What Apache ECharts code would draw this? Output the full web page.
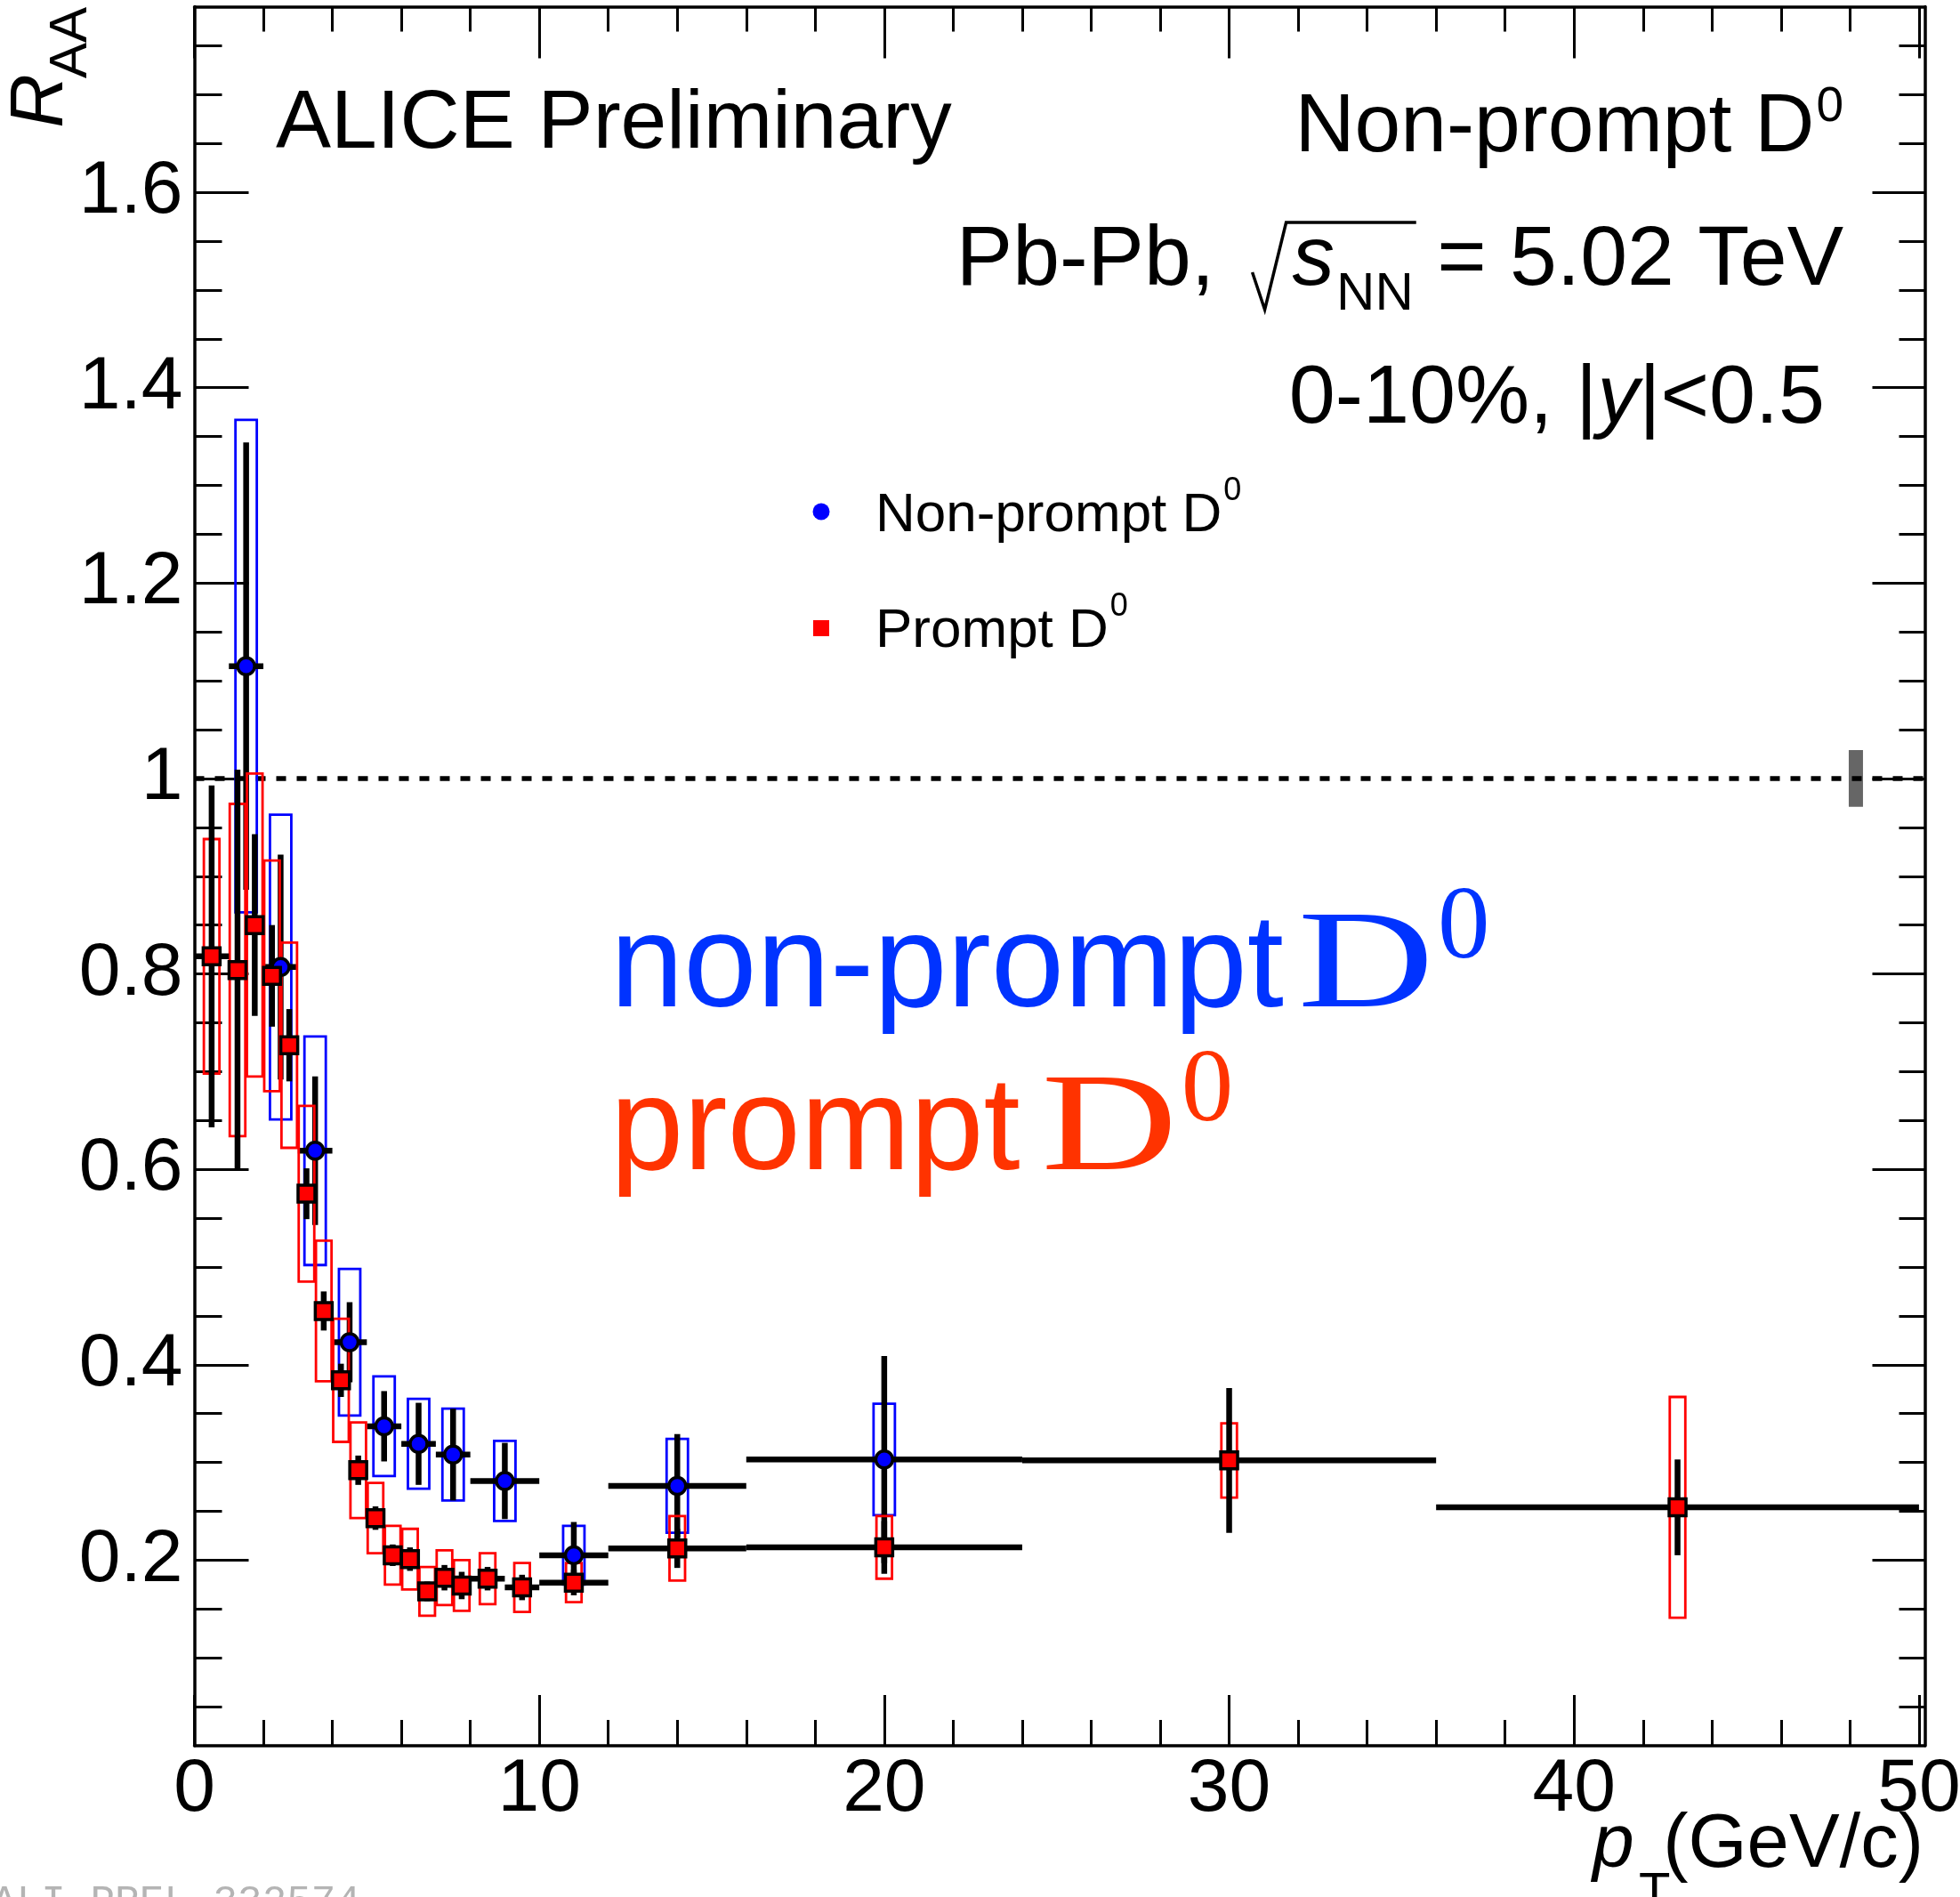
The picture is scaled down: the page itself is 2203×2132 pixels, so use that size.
<!DOCTYPE html>
<html>
<head>
<meta charset="utf-8">
<title>Non-prompt D0 RAA</title>
<script src="https://cdn.jsdelivr.net/npm/echarts@6.0.0/dist/echarts.min.js"></script>
<style>
  html, body { margin: 0; padding: 0; background: #fff; }
  #chart { width: 2203px; height: 2132px; }
</style>
</head>
<body>
<div id="chart"></div>
<script>
// non-prompt D0 (blue circles)
const npPt = [1.5, 2.5, 3.5, 4.5, 5.5, 6.5, 7.5, 9, 11, 14, 20];
const npLo = [1, 2, 3, 4, 5, 6, 7, 8, 10, 12, 16];
const npHi = [2, 3, 4, 5, 6, 7, 8, 10, 12, 16, 24];
const npVal = [1.115, 0.807, 0.619, 0.423, 0.337, 0.319, 0.308, 0.281, 0.205, 0.276, 0.303];
const npStat = [0.229, 0.115, 0.076, 0.041, 0.036, 0.042, 0.047, 0.039, 0.034, 0.053, 0.106];
const npSyst = [0.252, 0.156, 0.117, 0.075, 0.051, 0.046, 0.047, 0.041, 0.030, 0.048, 0.057];

// prompt D0 (red squares)
const pPt = [0.5, 1.25, 1.75, 2.25, 2.75, 3.25, 3.75, 4.25, 4.75, 5.25, 5.75, 6.25, 6.75, 7.25, 7.75, 8.5, 9.5, 11, 14, 20, 30, 43];
const pLo = [0, 1, 1.5, 2, 2.5, 3, 3.5, 4, 4.5, 5, 5.5, 6, 6.5, 7, 7.5, 8, 9, 10, 12, 16, 24, 36];
const pHi = [1, 1.5, 2, 2.5, 3, 3.5, 4, 4.5, 5, 5.5, 6, 6.5, 7, 7.5, 8, 9, 10, 12, 16, 24, 36, 50];
const pVal = [0.818, 0.804, 0.850, 0.798, 0.727, 0.575, 0.455, 0.384, 0.292, 0.243, 0.205, 0.201, 0.168, 0.182, 0.174, 0.181, 0.172, 0.177, 0.212, 0.213, 0.302, 0.254];
const pStat = [0.175, 0.205, 0.093, 0.052, 0.037, 0.026, 0.020, 0.017, 0.015, 0.012, 0.011, 0.012, 0.010, 0.013, 0.014, 0.012, 0.013, 0.013, 0.020, 0.027, 0.074, 0.049];
const pSyst = [0.120, 0.170, 0.155, 0.118, 0.105, 0.090, 0.072, 0.063, 0.049, 0.036, 0.030, 0.031, 0.025, 0.028, 0.026, 0.026, 0.025, 0.020, 0.033, 0.032, 0.038, 0.113];

// global normalisation uncertainty (grey box at RAA = 1)
const normUnc = [0.029];
// reference line
const unityLine = [1];

// axis ticks
const xMajor = [0, 10, 20, 30, 40, 50];
const yMajor = [0.2, 0.4, 0.6, 0.8, 1, 1.2, 1.4, 1.6];
const xMinor = [];
for (let v = 2; v < 50; v += 2) if (v % 10) xMinor.push(v);
const yMinor = [];
for (let i = 1; i <= 35; i++) if (i % 4) yMinor.push(+(i * 0.05).toFixed(2));

// ---- text helpers (measure with canvas so pieces line up) ----
const mctx = document.createElement('canvas').getContext('2d');
function fontStr(p) {
  return (p.italic ? 'italic ' : '') + p.size + 'px "' + (p.family || 'Liberation Sans') + '"';
}
function textWidth(p) {
  mctx.font = fontStr(p);
  return mctx.measureText(p.t).width;
}
// distance from the canvas "middle" baseline down to the alphabetic one
function midShift(p) {
  mctx.font = fontStr(p);
  mctx.textBaseline = 'alphabetic';
  const a = mctx.measureText('H').actualBoundingBoxAscent;
  mctx.textBaseline = 'middle';
  const b = mctx.measureText('H').actualBoundingBoxAscent;
  mctx.textBaseline = 'alphabetic';
  return a - b;
}
function textEl(p, x, baseline, color, align, rotation) {
  return {
    type: 'text', x: x, y: baseline, scaleX: p.sx || 1, rotation: rotation || 0, silent: true, z: 50,
    style: {
      text: p.t, x: 0, y: -midShift(p), font: fontStr(p), fill: p.color || color,
      align: align || 'left', verticalAlign: 'middle',
      textAlign: align || 'left', textVerticalAlign: 'middle'
    }
  };
}
// lay pieces on one baseline, anchored left or right
function textRow(pieces, x, baseline, anchor, color) {
  let total = 0;
  const ws = pieces.map(function (p) {
    const w = (p.gap || 0) + (p.w != null ? p.w : textWidth(p) * (p.sx || 1));
    total += w;
    return w;
  });
  let cx = anchor === 'right' ? x - total : x;
  const elems = [], xs = [];
  pieces.forEach(function (p, i) {
    const px = cx + (p.gap || 0);
    xs.push(px);
    if (p.t) elems.push(textEl(p, px, baseline + (p.dy || 0), color));
    cx += ws[i];
  });
  return { elems: elems, xs: xs };
}

const graphics = [];
function addRow(r) { r.elems.forEach(function (e) { graphics.push(e); }); return r; }

addRow(textRow([{ t: 'ALICE Preliminary', size: 93 }], 310, 166, 'left', '#000'));
addRow(textRow([
  { t: 'Non-prompt D', size: 93 },
  { t: '0', size: 55, dy: -34, gap: 2 }
], 2072, 170, 'right', '#000'));

const nnPiece = { t: 'NN', size: 60, dy: 28, gap: 2 };
const pbRow = addRow(textRow([
  { t: 'Pb-Pb, ', size: 95 },
  { w: 45, gap: 16 },
  { t: 's', size: 95, italic: true },
  nnPiece,
  { t: ' = 5.02 TeV', size: 95, gap: 0 }
], 2072, 320, 'right', '#000'));
const xr = pbRow.xs[1];
const nnEnd = pbRow.xs[3] + textWidth(nnPiece);
graphics.push({
  type: 'polyline', silent: true, z: 50,
  shape: { points: [[xr, 306], [xr + 14, 348], [xr + 38, 250], [nnEnd + 3, 250]] },
  style: { stroke: '#000', lineWidth: 3.5, fill: null, lineJoin: 'miter' }
});

addRow(textRow([
  { t: '0-10%, |', size: 93.5 },
  { t: 'y', size: 93.5, italic: true },
  { t: '|<0.5', size: 93.5 }
], 2051, 475, 'right', '#000'));

// legend
graphics.push({ type: 'circle', silent: true, z: 50, shape: { cx: 923, cy: 575, r: 9.5 }, style: { fill: '#0000ff' } });
graphics.push({ type: 'rect', silent: true, z: 50, shape: { x: 914, y: 697, width: 18, height: 18 }, style: { fill: '#ff0000' } });
addRow(textRow([{ t: 'Non-prompt D', size: 62 }, { t: '0', size: 36, dy: -35, gap: 2 }], 984, 597, 'left', '#000'));
addRow(textRow([{ t: 'Prompt D', size: 62 }, { t: '0', size: 36, dy: -35, gap: 2 }], 984, 727, 'left', '#000'));

// big coloured labels
addRow(textRow([
  { t: 'non-prompt', size: 148 },
  { t: 'D', size: 157, family: 'Liberation Serif', sx: 1.35, gap: 16 },
  { t: '0', size: 117, family: 'Liberation Serif', dy: -55, gap: 4 }
], 686, 1131, 'left', '#0033ff'));
addRow(textRow([
  { t: 'prompt', size: 148 },
  { t: 'D', size: 157, family: 'Liberation Serif', sx: 1.35, gap: 24 },
  { t: '0', size: 117, family: 'Liberation Serif', dy: -55, gap: 4 }
], 686, 1314, 'left', '#ff3300'));

// axis titles
graphics.push(textEl({ t: 'R', size: 84, italic: true }, 70, 83, '#000', 'right', Math.PI / 2));
graphics.push(textEl({ t: 'AA', size: 60 }, 97, 8, '#000', 'right', Math.PI / 2));
addRow(textRow([{ t: 'p', size: 84, italic: true }], 1790, 2098, 'left', '#000'));
addRow(textRow([{ t: 'T', size: 58 }], 1842, 2145, 'left', '#000'));
addRow(textRow([{ t: '(GeV/c)', size: 85 }], 2162, 2098, 'right', '#000'));

// figure id, mostly cut at the bottom edge
addRow(textRow([{ t: 'ALI-PREL-332574', size: 46, family: 'Liberation Mono' }], -9, 2151, 'left', '#b4b4b4'));

// ---- axes: majors and minors stacked on each side of the frame ----
const X_MAX = 50.17, Y_MIN = 0.01, Y_MAX = 1.79;
const axisLineStyle = { color: '#000', width: 3.5 };
const tickStyle = { color: '#000', width: 3 };
const labelStyle = { color: '#000', fontSize: 84, fontFamily: 'Liberation Sans' };

function xAx(pos, ticks, len, withLabels, withLine) {
  return {
    type: 'value', position: pos, min: 0, max: X_MAX,
    axisLine: { show: withLine, onZero: false, lineStyle: axisLineStyle },
    axisTick: { show: true, inside: true, length: len, customValues: ticks, lineStyle: tickStyle },
    axisLabel: withLabels
      ? Object.assign({ show: true, margin: 8, customValues: xMajor, formatter: function (v) { return '' + v; } }, labelStyle)
      : { show: false },
    splitLine: { show: false }, minorTick: { show: false }
  };
}
function yAx(pos, ticks, len, withLabels, withLine) {
  return {
    type: 'value', position: pos, min: Y_MIN, max: Y_MAX,
    axisLine: { show: withLine, onZero: false, lineStyle: axisLineStyle },
    axisTick: { show: true, inside: true, length: len, customValues: ticks, lineStyle: tickStyle },
    axisLabel: withLabels
      ? Object.assign({ show: true, margin: 13, customValues: yMajor, formatter: function (v) { return '' + v; } }, labelStyle)
      : { show: false },
    splitLine: { show: false }, minorTick: { show: false }
  };
}

// ---- renderers ----
function statRenderer(params, api) {
  const x = api.value(0), v = api.value(1), e = api.value(2);
  const top = api.coord([x, v + e]), bot = api.coord([x, v - e]);
  const l = api.coord([api.value(3), v]), r = api.coord([api.value(4), v]);
  const style = { stroke: '#000', lineWidth: 6.5 };
  return {
    type: 'group', children: [
      { type: 'line', shape: { x1: top[0], y1: top[1], x2: bot[0], y2: bot[1] }, style: style },
      { type: 'line', shape: { x1: l[0], y1: l[1], x2: r[0], y2: r[1] }, style: style }
    ]
  };
}
function boxRenderer(halfPx, color) {
  return function (params, api) {
    const t = api.coord([api.value(0), api.value(1) + api.value(2)]);
    const b = api.coord([api.value(0), api.value(1) - api.value(2)]);
    return {
      type: 'rect',
      shape: { x: t[0] - halfPx, y: t[1], width: 2 * halfPx, height: b[1] - t[1] },
      style: { fill: 'none', stroke: color, lineWidth: 2.8 }
    };
  };
}
function normRenderer(params, api) {
  const u = api.value(0);
  const t = api.coord([48.17, 1 + u]), b = api.coord([48.17, 1 - u]);
  return { type: 'rect', shape: { x: t[0] - 8, y: t[1], width: 16, height: b[1] - t[1] }, style: { fill: '#666666' } };
}
function unityRenderer(params, api) {
  const l = api.coord([0, api.value(0)]), r = api.coord([X_MAX, api.value(0)]);
  return {
    type: 'line', shape: { x1: l[0], y1: l[1], x2: r[0], y2: r[1] },
    style: { stroke: '#000', lineWidth: 5.5, lineDash: [11, 12] }
  };
}

const npStatData = npPt.map(function (x, i) { return [x, npVal[i], npStat[i], npLo[i], npHi[i]]; });
const npSystData = npPt.map(function (x, i) { return [x, npVal[i], npSyst[i]]; });
const pStatData = pPt.map(function (x, i) { return [x, pVal[i], pStat[i], pLo[i], pHi[i]]; });
const pSystData = pPt.map(function (x, i) { return [x, pVal[i], pSyst[i]]; });

const option = {
  animation: false,
  backgroundColor: '#ffffff',
  grid: { left: 218.5, top: 7.5, width: 1945, height: 1954.5, containLabel: false, outerBoundsMode: 'none' },
  xAxis: [
    xAx('bottom', xMajor, 57, true, true),
    xAx('bottom', xMinor, 29, false, false),
    xAx('top', xMajor, 58, false, true),
    xAx('top', xMinor, 28, false, false)
  ],
  yAxis: [
    yAx('left', yMajor, 61, true, true),
    yAx('left', yMinor, 31, false, false),
    yAx('right', yMajor, 59, false, true),
    yAx('right', yMinor, 29, false, false)
  ],
  series: [
    { name: 'norm', type: 'custom', renderItem: normRenderer, data: [normUnc], encode: { y: 0 }, silent: true },
    { name: 'unity', type: 'custom', renderItem: unityRenderer, data: [unityLine], encode: { y: 0 }, silent: true },
    { name: 'np syst', type: 'custom', renderItem: boxRenderer(12, '#0000ff'), data: npSystData, encode: { x: 0, y: 1 }, silent: true },
    { name: 'np stat', type: 'custom', renderItem: statRenderer, data: npStatData, encode: { x: 0, y: 1 }, silent: true },
    {
      name: 'Non-prompt D0', type: 'scatter', data: npPt.map(function (x, i) { return [x, npVal[i]]; }),
      symbol: 'circle', symbolSize: 19, silent: true,
      itemStyle: { color: '#0000ff', borderColor: '#000', borderWidth: 3.5, opacity: 1 }
    },
    { name: 'p syst', type: 'custom', renderItem: boxRenderer(8.75, '#ff0000'), data: pSystData, encode: { x: 0, y: 1 }, silent: true },
    { name: 'p stat', type: 'custom', renderItem: statRenderer, data: pStatData, encode: { x: 0, y: 1 }, silent: true },
    {
      name: 'Prompt D0', type: 'scatter', data: pPt.map(function (x, i) { return [x, pVal[i]]; }),
      symbol: 'rect', symbolSize: 19, silent: true,
      itemStyle: { color: '#ff0000', borderColor: '#000', borderWidth: 3.5, opacity: 1 }
    }
  ],
  graphic: { elements: graphics }
};

const chart = echarts.init(document.getElementById('chart'));
chart.setOption(option);
</script>
</body>
</html>
